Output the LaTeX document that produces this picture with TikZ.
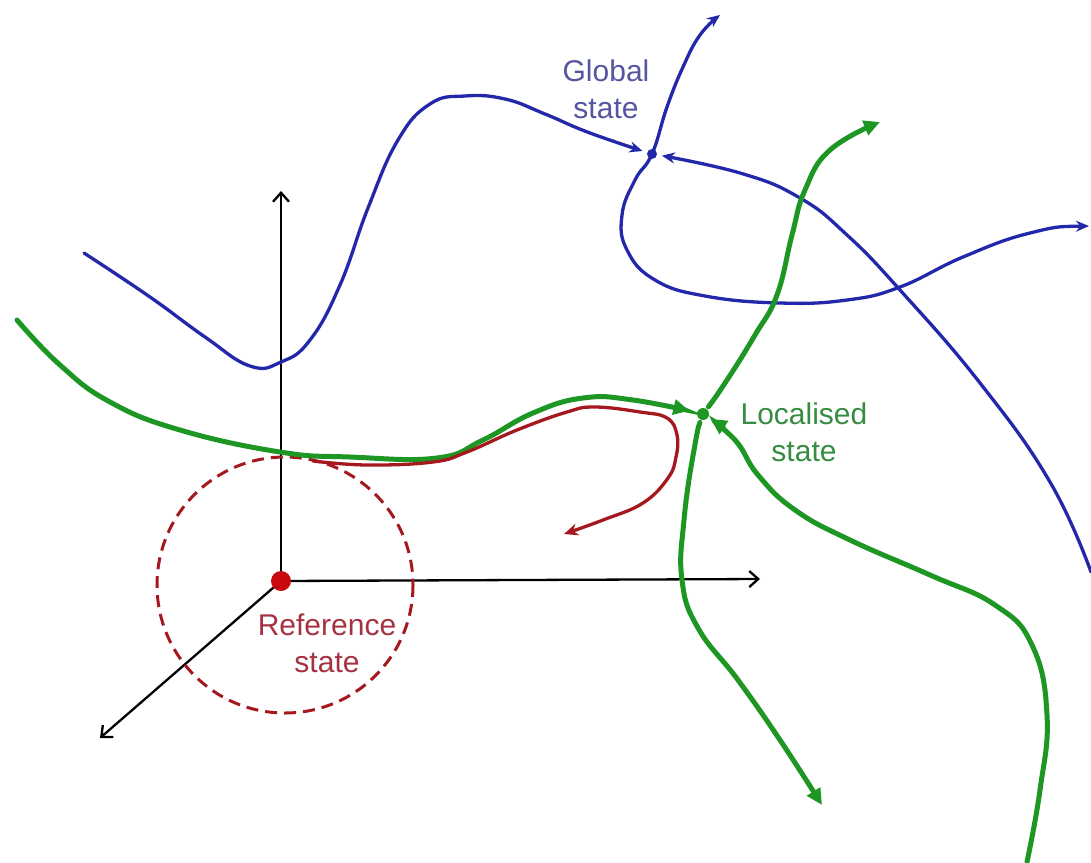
\documentclass[tikz,border=0pt]{standalone}
\usepackage{fontspec}
\setmainfont{Liberation Sans}
\usetikzlibrary{arrows.meta}
\definecolor{myblue}{RGB}{35,40,170}
\definecolor{mygreen}{RGB}{30,150,35}
\definecolor{myred}{RGB}{165,25,30}
\definecolor{dotred}{RGB}{200,10,15}
\definecolor{globtext}{RGB}{85,85,160}
\definecolor{loctext}{RGB}{55,140,65}
\definecolor{reftext}{RGB}{165,50,65}
\begin{document}
\begin{tikzpicture}[x=1pt,y=-1pt,
  bluecurve/.style={myblue,line width=3.3pt,line cap=round,
                    -{Stealth[length=13pt,width=11pt]}},
  greencurve/.style={mygreen,line width=5pt,line cap=round,
                     -{Triangle[length=16pt,width=15pt]}},
  redcurve/.style={myred,line width=3.3pt,line cap=round,
                   -{Stealth[length=14pt,width=12pt]}},
  axis/.style={black,line width=2.3pt,-{Straight Barb[length=9pt,width=16pt]}},
  statelabel/.style={font=\fontsize{30}{37}\selectfont,align=center,inner sep=0pt}]
\useasboundingbox (0,0) rectangle (1091,862);
% the three states
\coordinate (ref)  at (281,581);
\coordinate (glob) at (652,154);
\coordinate (loc)  at (703,414);
% axes and reference region
\draw[axis] (ref) -- (281,191);
\draw[axis] (ref) -- (760,579);
\draw[axis] (ref) -- (100,738);
\draw[myred,line width=3pt,dash pattern=on 12pt off 7pt] (285,585) circle (128);
% global trajectories
\draw[bluecurve,shorten >=10pt] plot[smooth,tension=0.75] coordinates {
  (84,253) (150,297) (205,337) (250,366) (281,362) (310,340)
  (340,285) (368,208) (398,140) (430,104) (465,96) (505,99) (545,114)
  (590,133) (glob)};
\draw[bluecurve,{Stealth[length=13pt,width=11pt]}-{Stealth[length=13pt,width=11pt]}]
  plot[smooth,tension=0.75] coordinates {
  (1089,226) (1030,233) (963,257) (900,287) (847,300) (780,303) (705,296)
  (655,280) (627,250) (622,215) (635,180) (glob) (667,107) (683,67)
  (700,35) (720,15)};
\draw[bluecurve,shorten >=10pt] plot[smooth,tension=0.75] coordinates {
  (1091,572) (1050,482) (980,383) (900,290) (847,235)
  (800,198) (740,173) (glob)};
% localised trajectories
\draw[greencurve,shorten >=14pt] plot[smooth,tension=0.75] coordinates {
  (17,320) (60,365) (110,402) (180,430) (280,452) (350,457)
  (437,458) (483,440) (533,413) (583,398) (633,400) (loc)};
\draw[greencurve,shorten <=9pt] plot[smooth,tension=0.75] coordinates {
  (loc) (727,380) (755,335) (777,295) (792,235) (805,190) (830,150)
  (880,122)};
\draw[greencurve,shorten <=9pt] plot[smooth,tension=0.75] coordinates {
  (loc) (694,450) (684,520) (682,580) (698,628) (738,680)
  (780,740) (822,805)};
\draw[greencurve,shorten >=9pt] plot[smooth,tension=0.75] coordinates {
  (1027,862) (1040,790) (1047,715) (1032,645) (995,605)
  (930,575) (850,540) (795,510) (758,475) (735,440) (loc)};
% return towards reference
\draw[redcurve] plot[smooth,tension=0.7] coordinates {
  (313,461) (367,465) (433,462) (467,452) (517,430) (567,412) (595,407)
  (640,412) (667,418) (677,435) (676,457) (668,478) (643,503) (603,520)
  (564,534)};
% state points
\fill[dotred] (ref) circle (10);
\fill[myblue] (glob) circle (5);
\fill[mygreen] (loc) circle (6);
% labels
\node[statelabel,text=globtext] (globlabel) at (606,89)  {Global\\state};
\node[statelabel,text=loctext]  (loclabel)  at (804,432) {Localised\\state};
\node[statelabel,text=reftext]  (reflabel)  at (327,643) {Reference\\state};
\end{tikzpicture}
\end{document}
